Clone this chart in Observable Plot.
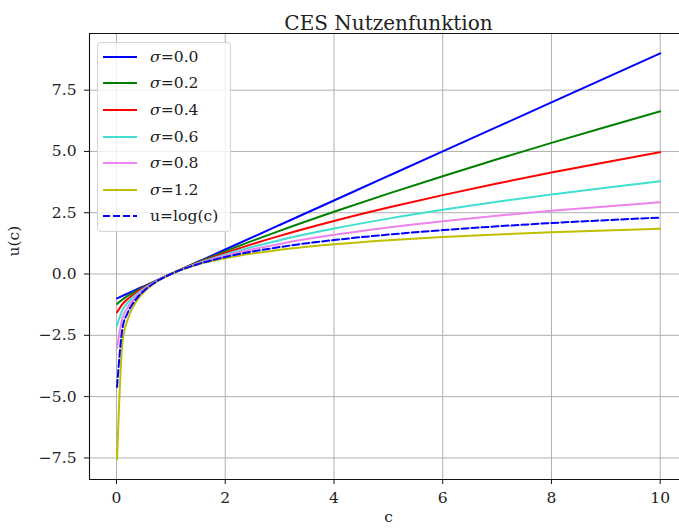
<!DOCTYPE html>
<html>
<head>
<meta charset="utf-8">
<script src="https://cdn.jsdelivr.net/npm/d3@7"></script>
<script src="https://cdn.jsdelivr.net/npm/@observablehq/plot@0.6"></script>
<style>
  body { margin: 0; background: #fff; }
  #chart { position: relative; width: 679px; height: 530px; font-family: "DejaVu Serif", serif; color: #222; }
  #chart svg { display: block; }
  .legend { position: absolute; left: 97px; top: 42px; width: 134px; height: 190px; box-sizing: border-box;
            border: 1px solid #d4d4d4; border-radius: 4px; background: rgba(255,255,255,0.8); }
  .legend .row { position: absolute; left: 0; height: 20px; display: flex; align-items: center; }
  .legend .row svg { margin-left: 5px; }
  .legend .row span { margin-left: 13px; font-size: 15.6px; white-space: nowrap; }
  .legend i { font-style: italic; }
</style>
</head>
<body>
<div id="chart"></div>
<script>
// consumption grid
const c = [0.01, 0.11, 0.2, 0.3, 0.4, 0.5, 0.7, 1, 1.5, 2, 3, 4, 5, 6, 7, 8, 9, 10];

// CES utility for each sigma
const u00 = [-0.99, -0.89, -0.8, -0.7, -0.6, -0.5, -0.3, 0, 0.5, 1, 2, 3, 4, 5, 6, 7, 8, 9];
const u02 = [-1.2186, -1.0361, -0.905, -0.7729, -0.6494, -0.5321, -0.3104, 0, 0.479, 0.9264, 1.7603, 2.5393, 3.2799, 3.9911, 4.6791, 5.3475, 5.9994, 6.637];
const u04 = [-1.5615, -1.2233, -1.032, -0.8573, -0.7048, -0.567, -0.3212, 0, 0.4592, 0.8595, 1.5553, 2.1623, 2.711, 3.2172, 3.69, 4.1372, 4.562, 4.9685];
const u06 = [-2.1038, -1.466, -1.1868, -0.9555, -0.7673, -0.6053, -0.3325, 0, 0.4403, 0.7988, 1.3795, 1.8528, 2.2593, 2.6193, 2.945, 3.2435, 3.5205, 3.7798];
const u08 = [-3.0095, -1.7845, -1.376, -1.07, -0.8375, -0.647, -0.344, 0, 0.4225, 0.7435, 1.2285, 1.5975, 1.8985, 2.155, 2.379, 2.5785, 2.759, 2.9245];
const u12 = [-7.5595, -2.775, -1.8985, -1.3615, -1.006, -0.7435, -0.3695, 0, 0.3895, 0.647, 0.9865, 1.2105, 1.376, 1.506, 1.612, 1.701, 1.778, 1.845];
const ulog = [-4.6052, -2.2073, -1.6094, -1.204, -0.9163, -0.6931, -0.3567, 0, 0.4055, 0.6931, 1.0986, 1.3863, 1.6094, 1.7918, 1.9459, 2.0794, 2.1972, 2.3026];

const seriesNames = ["σ=0.0", "σ=0.2", "σ=0.4", "σ=0.6", "σ=0.8", "σ=1.2", "u=log(c)"];
const seriesValues = [u00, u02, u04, u06, u08, u12, ulog];
const seriesColors = ["#0000ff", "#008000", "#ff0000", "#40e0d0", "#ee82ee", "#bfbf00", "#0000ff"];
const seriesDash = [null, null, null, null, null, null, "7,3"];

const xTicks = [0, 2, 4, 6, 8, 10];
const yTicks = [-7.5, -5, -2.5, 0, 2.5, 5, 7.5];

const rows = seriesNames.map((name, i) => c.map((cv, j) => ({c: cv, u: seriesValues[i][j], name})));

const fmtY = d3.format(".1f");
const font = "DejaVu Serif";

const plot = Plot.plot({
  width: 679,
  height: 530,
  marginLeft: 89,
  marginRight: 0,
  marginTop: 33,
  marginBottom: 51,
  style: {fontFamily: font, fontSize: "15.5px", color: "#222", background: "#fff"},
  x: {domain: [-0.4966, 10.3554]},
  y: {domain: [-8.38, 9.81]},
  marks: [
    Plot.gridX(xTicks, {stroke: "#b0b0b0", strokeOpacity: 1, strokeWidth: 1}),
    Plot.gridY(yTicks, {stroke: "#b0b0b0", strokeOpacity: 1, strokeWidth: 1}),
    ...rows.map((r, i) => Plot.line(r, {
      x: "c", y: "u", stroke: seriesColors[i], strokeWidth: 2,
      strokeDasharray: seriesDash[i] ?? undefined, curve: "monotone-x"
    })),
    Plot.axisX(xTicks, {tickSize: 5, tickPadding: 7, fontSize: 15.5, label: null, stroke: "#111"}),
    Plot.axisY(yTicks, {tickSize: 5, tickPadding: 8, fontSize: 15.5, label: null, tickFormat: fmtY, stroke: "#111"}),
    Plot.frame({anchor: "left", stroke: "#111", strokeWidth: 1.1}),
    Plot.frame({anchor: "bottom", stroke: "#111", strokeWidth: 1.1}),
    Plot.frame({anchor: "top", stroke: "#111", strokeWidth: 1.1}),
    Plot.text(["CES Nutzenfunktion"], {frameAnchor: "top", dx: 4, dy: -18, fontSize: 20, fill: "#222"}),
    Plot.text(["c"], {frameAnchor: "bottom", dx: 4, dy: 42, fontSize: 15.5, fill: "#222"}),
    Plot.text(["u(c)"], {frameAnchor: "left", dx: -75, dy: 0, rotate: -90, fontSize: 15.5, fill: "#222"})
  ]
});

const chart = document.getElementById("chart");
chart.appendChild(plot);

// legend box
const legend = document.createElement("div");
legend.className = "legend";
const rowTops = [14, 40, 67, 94, 120, 147, 173];
seriesNames.forEach((name, i) => {
  const row = document.createElement("div");
  row.className = "row";
  row.style.top = (rowTops[i] - 10) + "px";
  const dash = seriesDash[i] ? `stroke-dasharray="${seriesDash[i]}"` : "";
  const label = name.startsWith("σ") ? `<i>σ</i>${name.slice(1)}` : name;
  row.innerHTML = `<svg width="34" height="20"><line x1="0" x2="34" y1="10" y2="10" stroke="${seriesColors[i]}" stroke-width="2" ${dash}/></svg><span>${label}</span>`;
  legend.appendChild(row);
});
chart.appendChild(legend);
</script>
</body>
</html>
